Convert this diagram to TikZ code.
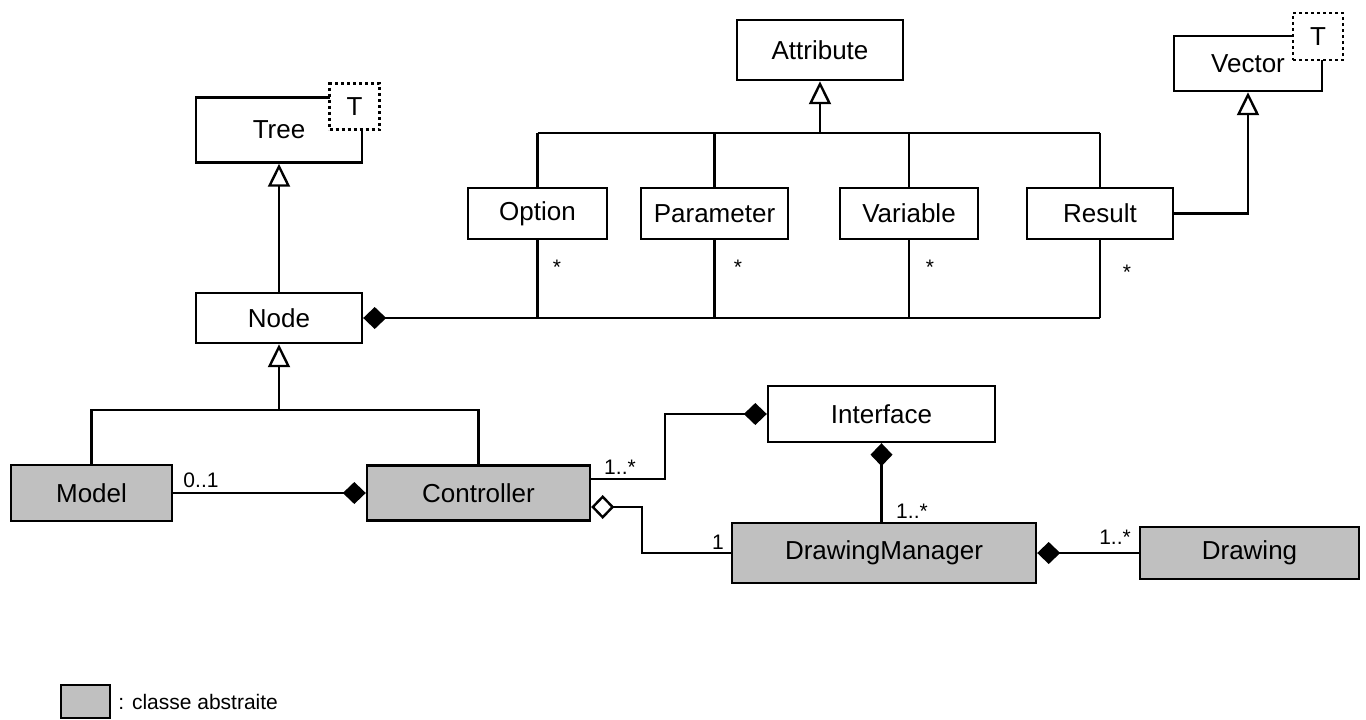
\documentclass[tikz,border=0pt]{standalone}
\usepackage{fontspec}
\setmainfont{Liberation Sans}
\usetikzlibrary{arrows.meta}
\definecolor{abstractgray}{RGB}{192,192,192}
\tikzset{
  classbox/.style={draw, line width=2.4pt, fill=white, inner sep=0pt,
    font=\fontsize{26}{30}\selectfont},
  abstractbox/.style={classbox, fill=abstractgray},
  tparam/.style={draw, dash pattern=on 3pt off 3pt, line width=2.4pt, fill=white,
    minimum width=50pt, minimum height=46pt, inner sep=0pt,
    font=\fontsize{26}{30}\selectfont},
  link/.style={line width=2.4pt},
  gen/.style={link, arrows={Triangle[open, length=23pt, width=22pt]-}},
  compo/.style={link, arrows={Diamond[length=23pt, width=22pt]-}},
  aggreg/.style={link, arrows={Diamond[open, length=23pt, width=24pt]-}},
  mult/.style={inner sep=0pt, font=\fontsize{21}{24}\selectfont}
}
\begin{document}
\begin{tikzpicture}[x=1pt, y=-1pt]
    \useasboundingbox (0,0) rectangle (1366,720);
    % classes
    \node[classbox, minimum width=166pt, minimum height=65pt] (tree) at (279,130) {Tree};
    \node[tparam] (treeT) at (354.5,106.5) {T};
    \node[classbox, minimum width=148pt, minimum height=55pt] (vector) at (1248,63.5) {Vector};
    \node[tparam, minimum height=47pt] (vectorT) at (1318,36.5) {T};
    \node[classbox, minimum width=166pt, minimum height=60pt] (attr) at (820,50) {Attribute};
    \node[classbox, minimum width=139pt, minimum height=51pt] (option) at (537.5,213.5) {Option};
    \node[classbox, minimum width=147pt, minimum height=51pt] (param) at (714.5,213.5) {Parameter};
    \node[classbox, minimum width=138pt, minimum height=51pt] (variable) at (909,213.5) {Variable};
    \node[classbox, minimum width=146pt, minimum height=51pt] (result) at (1100,213.5) {Result};
    \node[classbox, minimum width=166pt, minimum height=50pt] (treenode) at (279,318) {Node};
    \node[abstractbox, minimum width=161pt, minimum height=56pt] (model) at (91.5,493) {Model};
    \node[abstractbox, minimum width=223pt, minimum height=55pt] (ctrl) at (478.5,493) {Controller};
    \node[classbox, minimum width=227pt, minimum height=56pt] (iface) at (881.5,414) {Interface};
    \node[abstractbox, minimum width=304pt, minimum height=60pt] (dm) at (884,553) {DrawingManager};
    \node[abstractbox, minimum width=219pt, minimum height=52pt] (drawing) at (1249.5,553) {Drawing};

    % generalisations
    \coordinate (attrbar) at (820,133);
    \draw[gen] (attr.south) -- (attrbar);
    \draw[link] (option.north |- attrbar) -- (result.north |- attrbar);
    \foreach \c in {option, param, variable, result}
        \draw[link] (\c.north) -- (\c.north |- attrbar);
    \draw[gen] (tree.south) -- (treenode.north);
    \draw[gen] (vector.south) |- (result.east);
    \coordinate (subbar) at (279,410);
    \draw[gen] (treenode.south) -- (subbar);
    \draw[link] (model.north) |- (subbar) -| (ctrl.north);

    % compositions
    \draw[compo] (treenode.east) -- (treenode.east -| result.south);
    \foreach \c in {option, param, variable, result}
        \draw[link] (\c.south) -- (\c.south |- treenode.east);
    \draw[compo] (ctrl.west) -- (model.east);
    \draw[compo] (iface.west) -- ++(-102,0) |- ([yshift=14pt]ctrl.east);
    \draw[aggreg] ([yshift=-14pt]ctrl.east) -- ++(51,0) |- (dm.west);
    \draw[compo] (iface.south) -- (iface.south |- dm.north);
    \draw[compo] (dm.east) -- (drawing.west);

    % multiplicities
    \node[mult] (mopt) at (557,267) {*};
    \node[mult] (mpar) at (738,267) {*};
    \node[mult] (mvar) at (930,267) {*};
    \node[mult] (mres) at (1127,272) {*};
    \node[mult] (mmodel) at (201,480) {0..1};
    \node[mult] (mctrl) at (620,467) {1..*};
    \node[mult] (mdm) at (718,542) {1};
    \node[mult] (miface) at (912,511) {1..*};
    \node[mult] (mdrawing) at (1115,537) {1..*};

    % legend
    \node[abstractbox, minimum width=49pt, minimum height=33pt] (legend) at (85.5,701.5) {};
    \node[anchor=west, inner sep=0pt, font=\fontsize{21}{24}\selectfont] (legendtext)
        at ([xshift=7pt]legend.east) {: classe abstraite};
\end{tikzpicture}
\end{document}
